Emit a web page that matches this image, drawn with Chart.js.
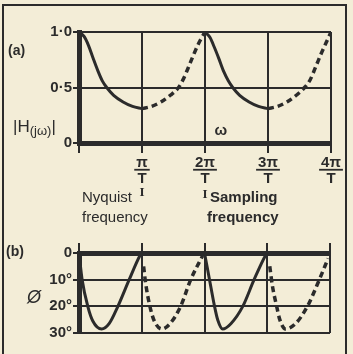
<!DOCTYPE html>
<html>
<head>
<meta charset="utf-8">
<script src="https://cdn.jsdelivr.net/npm/chart.js@4.4.0/dist/chart.umd.min.js"></script>
<style>
  html, body { margin: 0; padding: 0; background: #f3edd7; }
  #fig { position: relative; width: 353px; height: 354px; overflow: hidden; background: #f3edd7; }
  #frame { position: absolute; left: 2px; top: 4px; width: 341px; height: 360px;
           border: 2px solid #2b2b2b; border-bottom: none; }
  #magCanvas { position: absolute; left: 0; top: 0; }
  #phaseCanvas { position: absolute; left: 0; top: 232px; }
</style>
</head>
<body>
<div id="fig">
  <div id="frame"></div>
  <canvas id="magCanvas" width="353" height="232"></canvas>
  <canvas id="phaseCanvas" width="353" height="122"></canvas>
</div>
<script>
// eje x en unidades de pi/T
const xTicks = [0, 1, 2, 3, 4];
const xNumerators = ['', 'π', '2π', '3π', '4π'];
const xDenominator = 'T';

// (a) modulo |H(jw)|
const magTickValues = [0, 0.5, 1];
const magTickLabels = ['0', '0·5', '1·0'];
const magSolidA = [[0, 1.0], [0.08, 0.96], [0.15, 0.88], [0.22, 0.77], [0.3, 0.65], [0.37, 0.56],
                   [0.44, 0.5], [0.55, 0.43], [0.7, 0.37], [0.85, 0.33], [1.0, 0.31]];
const magDashA  = [[1.0, 0.31], [1.15, 0.33], [1.3, 0.37], [1.45, 0.43], [1.58, 0.5], [1.66, 0.58],
                   [1.75, 0.70], [1.83, 0.81], [1.91, 0.91], [2.0, 1.0]];
const magSolidB = [[2.0, 1.0], [2.08, 0.95], [2.15, 0.86], [2.22, 0.76], [2.3, 0.64], [2.37, 0.56],
                   [2.44, 0.5], [2.55, 0.43], [2.7, 0.37], [2.85, 0.33], [3.0, 0.31]];
const magDashB  = [[3.0, 0.31], [3.15, 0.33], [3.3, 0.37], [3.45, 0.43], [3.58, 0.5], [3.67, 0.57],
                   [3.76, 0.69], [3.84, 0.8], [3.92, 0.9], [4.0, 1.0]];

// (b) fase en grados
const phaseTickValues = [0, 10, 20, 30];
const phaseTickLabels = ['0', '10°', '20°', '30°'];
const phaseSolidA = [[0, 0], [0.05, 10], [0.14, 20], [0.22, 25.5], [0.36, 28.5], [0.48, 26.5],
                     [0.62, 20], [0.8, 10], [0.97, 1], [1.0, 0]];
const phaseDashA  = [[1.03, 5], [1.06, 11], [1.13, 20], [1.2, 25.5], [1.32, 28.5], [1.45, 26.5],
                     [1.62, 20], [1.78, 10], [1.97, 1]];
const phaseSolidB = [[2.0, 0], [2.08, 10], [2.16, 20], [2.21, 25], [2.29, 28.5], [2.42, 26.5],
                     [2.61, 20], [2.79, 10], [2.97, 1], [3.0, 0]];
const phaseDashB  = [[3.04, 5], [3.08, 12], [3.15, 20], [3.2, 25], [3.29, 28.5], [3.45, 26.5],
                     [3.64, 20], [3.83, 10], [3.97, 2]];

const ink = '#2b2b2b';
const sans = "'Liberation Sans', Arial, sans-serif";

function curve(arr, dashed) {
    return {
        data: arr.map(p => ({ x: p[0], y: p[1] })),
        borderColor: ink,
        borderWidth: dashed ? 3.5 : 3,
        borderDash: dashed ? [6, 4] : [],
        pointRadius: 0,
        fill: false,
        cubicInterpolationMode: 'monotone'
    };
}

function setTicks(values) {
    return s => { s.ticks = values.map(v => ({ value: v })); };
}

const commonPlugins = { legend: { display: false }, tooltip: { enabled: false } };

// --- textos del grafico (a) ---
const magText = {
    id: 'magText',
    afterDraw(chart) {
        const ctx = chart.ctx;
        const xs = chart.scales.x;
        const area = chart.chartArea;
        ctx.save();
        ctx.fillStyle = ink;
        ctx.strokeStyle = ink;

        // raya de las fracciones
        ctx.font = 'bold 15px ' + sans;
        ctx.lineWidth = 1.8;
        const barY = area.bottom + 10 + 2 + 15.75 - 1;
        xTicks.forEach((v, i) => {
            if (!xNumerators[i]) return;
            const px = xs.getPixelForValue(v);
            const w = ctx.measureText(xNumerators[i]).width + 4;
            ctx.beginPath();
            ctx.moveTo(px - w / 2, barY);
            ctx.lineTo(px + w / 2, barY);
            ctx.stroke();
        });

        ctx.textAlign = 'left';
        ctx.textBaseline = 'alphabetic';
        ctx.font = 'bold 14px ' + sans;
        ctx.fillText('(a)', 8, 55);

        // |H(jw)|
        ctx.font = '17px ' + sans;
        ctx.fillText('|H', 13, 132);
        let x = 13 + ctx.measureText('|H').width;
        ctx.font = '13px ' + sans;
        ctx.fillText('(jω)', x, 135);
        x += ctx.measureText('(jω)').width;
        ctx.font = '17px ' + sans;
        ctx.fillText('|', x, 132);

        ctx.textAlign = 'center';
        ctx.font = 'bold 15px ' + sans;
        ctx.fillText('ω', xs.getPixelForValue(2.25), 135);

        // marcas bajo pi/T y 2pi/T
        ctx.font = 'bold 13px "Liberation Serif", serif';
        ctx.fillText('I', xs.getPixelForValue(1), 196);
        ctx.fillText('I', xs.getPixelForValue(2), 198);

        ctx.textAlign = 'left';
        ctx.font = '15px ' + sans;
        ctx.fillText('Nyquist', 82, 202);
        ctx.fillText('frequency', 82, 222);
        ctx.font = 'bold 15px ' + sans;
        ctx.fillText('Sampling', 210, 202);
        ctx.fillText('frequency', 207, 222);
        ctx.restore();
    }
};

// --- textos del grafico (b) ---
const phaseText = {
    id: 'phaseText',
    afterDraw(chart) {
        const ctx = chart.ctx;
        ctx.save();
        ctx.fillStyle = ink;
        ctx.textAlign = 'left';
        ctx.font = 'bold 14px ' + sans;
        ctx.fillText('(b)', 6, 24);
        ctx.font = 'italic 18px ' + sans;
        ctx.fillText('Ø', 27, 71);
        ctx.restore();
    }
};

new Chart(document.getElementById('magCanvas'), {
    type: 'line',
    data: { datasets: [curve(magSolidA, false), curve(magDashA, true), curve(magSolidB, false), curve(magDashB, true)] },
    options: {
        responsive: false, animation: false, devicePixelRatio: 1,
        layout: { padding: { top: 32, right: 22, left: 0, bottom: 0 } },
        plugins: commonPlugins,
        scales: {
            x: {
                type: 'linear', min: 0, max: 4,
                afterBuildTicks: setTicks(xTicks),
                afterFit: s => { s.height = 232 - 143; },
                ticks: {
                    callback: (v) => { const i = xTicks.indexOf(v); return i > 0 ? [xNumerators[i], xDenominator] : ''; },
                    font: { family: sans, size: 15, weight: 'bold', lineHeight: 1.05 },
                    color: ink, padding: 2, maxRotation: 0, autoSkip: false
                },
                grid: { color: ink, lineWidth: 2, tickLength: 10, drawTicks: true },
                border: { color: ink, width: 5 }
            },
            y: {
                min: 0, max: 1,
                afterBuildTicks: setTicks(magTickValues),
                afterFit: s => { s.width = 79; },
                ticks: {
                    callback: (v) => magTickLabels[magTickValues.indexOf(v)],
                    font: { family: sans, size: 15, weight: 'bold' },
                    color: ink, padding: 1
                },
                grid: { color: ink, lineWidth: 2, tickLength: 6 },
                border: { color: ink, width: 5 }
            }
        }
    },
    plugins: [magText]
});

new Chart(document.getElementById('phaseCanvas'), {
    type: 'line',
    data: { datasets: [curve(phaseSolidA, false), curve(phaseDashA, true), curve(phaseSolidB, false), curve(phaseDashB, true)] },
    options: {
        responsive: false, animation: false, devicePixelRatio: 1,
        layout: { padding: { top: 0, right: 23, left: 0, bottom: 21 } },
        plugins: commonPlugins,
        scales: {
            x: {
                type: 'linear', position: 'top', min: 0, max: 4,
                afterBuildTicks: setTicks(xTicks),
                afterFit: s => { s.height = 21; },
                ticks: { callback: () => '', padding: 0 },
                grid: { color: ink, lineWidth: 2, tickLength: 10, drawTicks: true },
                border: { color: ink, width: 5 }
            },
            y: {
                min: 0, max: 30, reverse: true,
                afterBuildTicks: setTicks(phaseTickValues),
                afterFit: s => { s.width = 79; },
                ticks: {
                    callback: (v) => phaseTickLabels[phaseTickValues.indexOf(v)],
                    font: { family: sans, size: 15, weight: 'bold' },
                    color: ink, padding: 1
                },
                grid: { color: ink, lineWidth: 2, tickLength: 6 },
                border: { color: ink, width: 5 }
            }
        }
    },
    plugins: [phaseText]
});
</script>
</body>
</html>
